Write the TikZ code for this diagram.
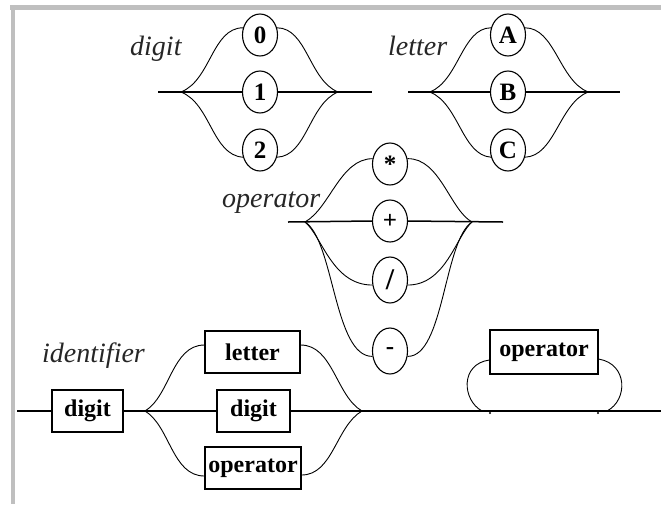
\documentclass[tikz,border=0pt]{standalone}
\usepackage{fontspec}
\setmainfont{Liberation Serif}
\usetikzlibrary{shapes.geometric,calc}

\begin{document}
\begin{tikzpicture}[x=1pt,y=-1pt,
  term/.style={draw,ellipse,line width=1.1pt,minimum width=35pt,minimum height=42pt,
    inner sep=0pt,fill=white,font=\bfseries\fontsize{25}{25}\selectfont},
  nonterm/.style={draw,rectangle,line width=1.2pt,minimum height=42pt,inner sep=0pt,
    fill=white,font=\bfseries\fontsize{24}{24}\selectfont},
  rail/.style={line width=1.5pt},
  curvelink/.style={line width=0.9pt},
  title/.style={anchor=base west,inner sep=0pt,font=\itshape\fontsize{28}{28}\selectfont,text=black!85},
  frame/.style={line width=4.5pt,draw=black!25}]

\useasboundingbox (0,0) rectangle (661,504);

% page frame (top and left edges)
\draw[frame] (10,7.5) -- (661,7.5);
\draw[frame] (13,5) -- (13,504);

% ---------------- digit ----------------
\node[title] (tdigit) at (130,55) {digit};
\coordinate (dIn)  at (158,92);
\coordinate (dL)   at (181,92);
\coordinate (dR)   at (338,92);
\coordinate (dOut) at (372,92);
\node[term] (d0) at (260,35)  {0};
\node[term] (d1) at (260,92)  {1};
\node[term] (d2) at (260,150) {2};
\draw[rail] (dIn) -- (d1.west);
\draw[rail] (d1.east) -- (dOut);
\draw[curvelink] (dL) .. controls (211,80) and (212,28) .. (d0.157);
\draw[curvelink] (d0.23) .. controls (307,28) and (309,80) .. (dR);
\draw[curvelink] (dL) .. controls (211,104) and (212,155) .. (d2.203);
\draw[curvelink] (d2.337) .. controls (307,156) and (309,104) .. (dR);

% ---------------- letter ----------------
\node[title] (tletter) at (388,55) {letter};
\coordinate (lIn)  at (408,92);
\coordinate (lL)   at (430,92);
\coordinate (lR)   at (588,92);
\coordinate (lOut) at (620,92);
\node[term] (lA) at (508,35)  {A};
\node[term] (lB) at (508,92)  {B};
\node[term] (lC) at (508,150) {C};
\draw[rail] (lIn) -- (lB.west);
\draw[rail] (lB.east) -- (lOut);
\draw[curvelink] (lL) .. controls (459,80) and (462,28) .. (lA.157);
\draw[curvelink] (lA.23) .. controls (555,28) and (559,80) .. (lR);
\draw[curvelink] (lL) .. controls (459,104) and (462,155) .. (lC.203);
\draw[curvelink] (lC.337) .. controls (555,156) and (559,104) .. (lR);

% ---------------- operator ----------------
\node[title] (toperator) at (222,207) {operator};
\coordinate (oIn)  at (288,222);
\coordinate (oL)   at (305,222);
\coordinate (oR)   at (472,222);
\coordinate (oOut) at (503,222);
\node[term] (oStar)  at (390,164) {*};
\node[term] (oPlus)  at (390,221) {+};
\node[term,minimum height=46pt,font=\bfseries\fontsize{30}{30}\selectfont] (oSlash) at (390,280) {/};
\node[term,minimum height=46pt] (oMinus) at (390,351) {-};
\draw[rail] (oIn) -- (oPlus.west);
\draw[rail] (oPlus.east) -- (oOut);
\draw[curvelink] (oL) .. controls (330,208) and (340,159) .. (oStar.163);
\draw[curvelink] (oStar.17) .. controls (440,158) and (450,210) .. (oR);
\draw[curvelink] (oL) .. controls (322,236) and (332,285) .. (oSlash.196);
\draw[curvelink] (oSlash.344) .. controls (446,285) and (456,236) .. (oR);
\draw[curvelink] (oL) .. controls (334,240) and (334,357) .. (oMinus.197);
\draw[curvelink] (oMinus.343) .. controls (444,357) and (444,240) .. (oR);

% ---------------- identifier ----------------
\node[title] (tident) at (42,362) {identifier};
\coordinate (iIn)  at (17,411);
\coordinate (iL)   at (145,411);
\coordinate (iR)   at (362,411);
\coordinate (jL)   at (482,411);
\coordinate (jR)   at (607,411);
\coordinate (iOut) at (661,411);
\node[nonterm,minimum width=71pt] (iDigit)  at (87.5,411) {digit};
\node[nonterm,minimum width=95pt] (iLetter) at (252.5,352) {letter};
\node[nonterm,minimum width=73pt] (iDigit2) at (253.5,411) {digit};
\node[nonterm,minimum width=96pt] (iOper)   at (253,468) {operator};
\node[nonterm,minimum width=108pt,minimum height=44pt] (iLoop) at (544,352) {operator};
\draw[rail] (iIn) -- (iDigit.west);
\draw[rail] (iDigit.east) -- (iL) -- (iDigit2.west);
\draw[rail] (iDigit2.east) -- (iR) -- (jL) -- (jR) -- (iOut);
\draw[curvelink] (iL) .. controls (170,396) and (172,345) .. ([yshift=7pt]iLetter.west);
\draw[curvelink] ([yshift=7pt]iLetter.east) .. controls (333,345) and (336,396) .. (iR);
\draw[curvelink] (iL) .. controls (170,426) and (172,476) .. ([yshift=-8pt]iOper.west);
\draw[curvelink] ([yshift=-7pt]iOper.east) .. controls (333,475) and (336,426) .. (iR);
% repetition loop
\draw[curvelink] (jL) .. controls (462,400) and (460,364) .. ([yshift=-8pt]iLoop.west);
\draw[curvelink] ([yshift=-7pt]iLoop.east) .. controls (628,364) and (628,400) .. (jR);
\fill (490,413) circle (1.2);
\fill (598,413) circle (1.2);

\end{tikzpicture}
\end{document}
